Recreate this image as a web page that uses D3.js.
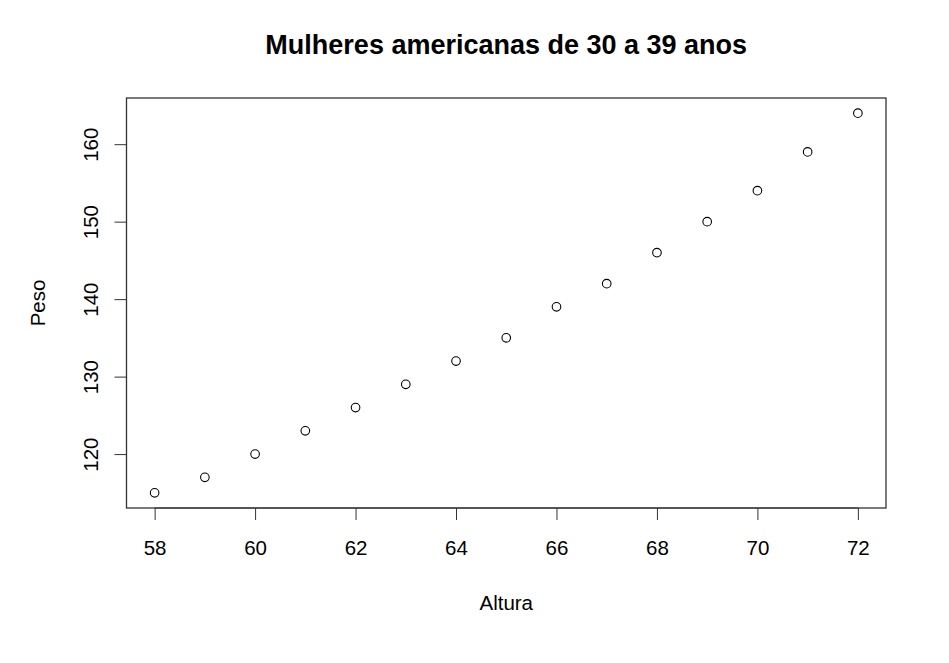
<!DOCTYPE html>
<html>
<head>
<meta charset="utf-8">
<script src="https://cdn.jsdelivr.net/npm/d3@7"></script>
<style>
  body { margin: 0; background: #fff; }
  text { font-family: "Liberation Sans", Arial, sans-serif; fill: #000; }
</style>
</head>
<body>
<div id="chart"></div>
<script>
const altura = [58, 59, 60, 61, 62, 63, 64, 65, 66, 67, 68, 69, 70, 71, 72];
const peso = [115, 117, 120, 123, 126, 129, 132, 135, 139, 142, 146, 150, 154, 159, 164];
const xTicks = [58, 60, 62, 64, 66, 68, 70, 72];
const yTicks = [120, 130, 140, 150, 160];

const W = 949, H = 663;
const margin = { top: 98, right: 63, bottom: 155, left: 126.5 };
const width = W - margin.left - margin.right;
const height = H - margin.top - margin.bottom;

// R style 4% padding
const xr = d3.extent(altura), yr = d3.extent(peso);
const xp = (xr[1] - xr[0]) * 0.04, yp = (yr[1] - yr[0]) * 0.04;

const x = d3.scaleLinear().domain([xr[0] - xp, xr[1] + xp]).range([0, width]);
const y = d3.scaleLinear().domain([yr[0] - yp, yr[1] + yp]).range([height, 0]);

const svg = d3.select("#chart").append("svg")
  .attr("width", W).attr("height", H);

const g = svg.append("g")
  .attr("transform", `translate(${margin.left},${margin.top})`);

g.append("rect")
  .attr("width", width).attr("height", height)
  .attr("fill", "none").attr("stroke", "#333").attr("stroke-width", 1.3);

const xAxis = g.append("g")
  .attr("transform", `translate(0,${height})`)
  .call(d3.axisBottom(x).tickValues(xTicks).tickSize(12).tickPadding(20));
xAxis.select(".domain")
  .attr("d", `M${x(xTicks[0])},0H${x(xTicks[xTicks.length - 1])}`)
  .attr("stroke", "#333");
xAxis.selectAll("line").attr("stroke", "#333");
xAxis.selectAll("text").style("font-size", "20.5px");

const yAxis = g.append("g")
  .call(d3.axisLeft(y).tickValues(yTicks).tickSize(12).tickPadding(0));
yAxis.select(".domain")
  .attr("d", `M0,${y(yTicks[0])}V${y(yTicks[yTicks.length - 1])}`)
  .attr("stroke", "#333");
yAxis.selectAll("line").attr("stroke", "#333");
yAxis.selectAll("text")
  .style("font-size", "20.5px")
  .attr("x", null).attr("dy", null)
  .attr("text-anchor", "middle")
  .attr("transform", "translate(-29,0) rotate(-90)")
  .attr("y", 0);

g.selectAll("circle.pt")
  .data(altura)
  .enter()
  .append("circle")
  .attr("class", "pt")
  .attr("cx", (d) => x(d))
  .attr("cy", (d, i) => y(peso[i]))
  .attr("r", 4.3)
  .attr("fill", "none")
  .attr("stroke", "#000")
  .attr("stroke-width", 1.1);

svg.append("text")
  .attr("x", margin.left + width / 2)
  .attr("y", 54)
  .attr("text-anchor", "middle")
  .style("font-size", "27px")
  .style("font-weight", "bold")
  .text("Mulheres americanas de 30 a 39 anos");

svg.append("text")
  .attr("x", margin.left + width / 2)
  .attr("y", 610)
  .attr("text-anchor", "middle")
  .style("font-size", "20.5px")
  .text("Altura");

svg.append("text")
  .attr("transform", `translate(45,${margin.top + height / 2}) rotate(-90)`)
  .attr("text-anchor", "middle")
  .style("font-size", "20.5px")
  .text("Peso");
</script>
</body>
</html>
